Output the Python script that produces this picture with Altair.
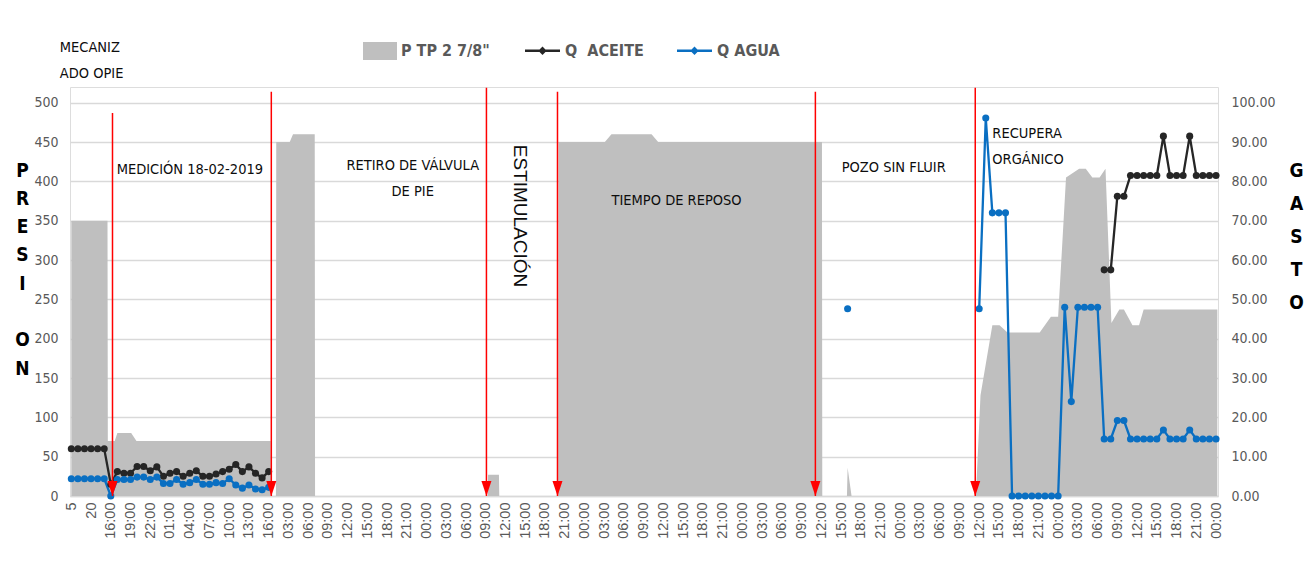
import json
import altair as alt
import pandas as pd

# ---------------- data ----------------
X_LABELS = ["5", "20", "16:00", "19:00", "22:00", "01:00", "04:00", "07:00", "10:00", "13:00", "16:00",
            "03:00", "06:00", "09:00", "12:00", "15:00", "18:00", "21:00", "00:00",
            "03:00", "06:00", "09:00", "12:00", "15:00", "18:00", "21:00", "00:00",
            "03:00", "06:00", "09:00", "12:00", "15:00", "18:00", "21:00", "00:00",
            "03:00", "06:00", "09:00", "12:00", "15:00", "18:00", "21:00", "00:00",
            "03:00", "06:00", "09:00", "12:00", "15:00", "18:00", "21:00", "00:00",
            "03:00", "06:00", "09:00", "12:00", "15:00", "18:00", "21:00", "00:00"]
LABEL_STEP = 3  # one label every 3 hourly categories

# pressure outline (category index, psi)
P_IDX = [0, 5.5, 5.55, 6.6, 7.0, 9.1, 9.9,
         30.3, 30.35, 31.1, 31.15, 33.2, 33.7, 37.0, 37.05,
         63.3, 63.35, 65.0, 65.05,
         74.0, 74.05, 81.1, 82.1, 88.2, 89.2, 114.1, 114.15,
         117.9, 118.0, 118.6,
         137.5, 138.2, 140.0, 141.1, 142.3, 147.2, 148.9, 150.0,
         151.2, 153.2, 154.2, 155.2, 156.3, 157.2, 158.1, 159.3, 160.0, 161.3, 162.3, 163.0, 174.2]
P_VAL = [350, 350, 70, 70, 80, 80, 70,
         70, 0, 0, 450, 450, 460, 460, 0,
         0, 27, 27, 0,
         0, 450, 450, 460, 460, 450, 450, 0,
         0, 36, 0,
         0, 128, 217, 217, 208, 208, 228, 228,
         405, 416, 416, 405, 405, 416, 220, 237, 237, 217, 217, 237, 237]

ACEITE_LEFT_START = 0
ACEITE_LEFT = [12, 12, 12, 12, 12, 12, 3,
               6.2, 5.8, 5.8, 7.5, 7.5, 6.4, 7.4, 5.0, 5.8, 6.2,
               5.0, 5.8, 6.4, 5.0, 5.0, 5.6, 6.2, 6.8, 8.0, 6.2,
               7.4, 5.8, 4.6, 6.2]
ACEITE_RIGHT_START = 157
ACEITE_RIGHT = [57.5, 57.5, 76.2, 76.2, 81.5, 81.5, 81.5, 81.5, 81.5, 91.5,
                81.5, 81.5, 81.5, 91.5, 81.5, 81.5, 81.5, 81.5]

AGUA_LEFT_START = 0
AGUA_LEFT = [4.4, 4.4, 4.4, 4.4, 4.4, 4.4, 0,
             4.2, 4.2, 4.2, 4.8, 4.8, 4.2, 4.8, 3.2, 3.2, 4.2,
             3.0, 3.4, 4.2, 3.0, 3.0, 3.4, 3.2, 4.4, 2.8, 2.0,
             2.8, 1.8, 1.6, 2.2]
AGUA_MID_START = 118
AGUA_MID = [47.6]
AGUA_RIGHT_START = 138
AGUA_RIGHT = [47.6, 96.1, 72, 72, 72,
              0, 0, 0, 0, 0, 0, 0, 0,
              48, 24, 48, 48, 48, 48,
              14.5, 14.5, 19.2, 19.2, 14.5, 14.5, 14.5, 14.5, 14.5, 16.8,
              14.5, 14.5, 14.5, 16.8, 14.5, 14.5, 14.5, 14.5]

ARROW_IDX = [6.26, 30.4, 63.1, 73.9, 113.1, 137.4]
ARROW_TOP = [487, 514, 519, 514, 514, 519]

NOTES_LEFT = ["MECANIZ\nADO OPIE", "MEDICIÓN 18-02-2019", "POZO SIN FLUIR", "RECUPERA\nORGÁNICO"]
NOTES_LEFT_IDX = [-1.75, 6.9, 117.1, 140.0]
NOTES_LEFT_P = [569, 415, 417, 460]
NOTES_CENTER = ["RETIRO DE VÁLVULA\nDE PIE", "TIEMPO DE REPOSO"]
NOTES_CENTER_IDX = [51.9, 92.0]
NOTES_CENTER_P = [419, 375]
NOTES_VERT = ["ESTIMULACIÓN"]
NOTES_VERT_IDX = [68.2]
NOTES_VERT_P = [356]

S_PRES = 'P TP 2 7/8"'
S_ACEITE = "Q\u00a0 ACEITE"
S_AGUA = "Q AGUA"

# ---------------- tables ----------------
pres = pd.DataFrame({"idx": P_IDX, "p": P_VAL, "serie": S_PRES})

rows = []
def add(serie, seg, start, vals):
    for i, v in enumerate(vals):
        rows.append({"idx": start + i, "q": v, "serie": serie, "seg": serie + seg})

add(S_ACEITE, "a", ACEITE_LEFT_START, ACEITE_LEFT)
add(S_ACEITE, "b", ACEITE_RIGHT_START, ACEITE_RIGHT)
add(S_AGUA, "a", AGUA_LEFT_START, AGUA_LEFT)
add(S_AGUA, "b", AGUA_MID_START, AGUA_MID)
add(S_AGUA, "c", AGUA_RIGHT_START, AGUA_RIGHT)
flows = pd.DataFrame(rows)

arrows = pd.DataFrame({"idx": ARROW_IDX, "top": ARROW_TOP, "y0": [0] * len(ARROW_IDX)})
notes_l = pd.DataFrame({"idx": NOTES_LEFT_IDX, "p": NOTES_LEFT_P, "t": NOTES_LEFT})
notes_c = pd.DataFrame({"idx": NOTES_CENTER_IDX, "p": NOTES_CENTER_P, "t": NOTES_CENTER})
notes_v = pd.DataFrame({"idx": NOTES_VERT_IDX, "p": NOTES_VERT_P, "t": NOTES_VERT})

# ---------------- styling ----------------
FONT_N = "DejaVu Sans Condensed, Liberation Sans Narrow, sans-serif"
FONT_R = "Liberation Sans, Arial, sans-serif"
GREY_TXT = "#595959"
GRID = "#d9d9d9"
AREA_C = "#bfbfbf"
BLACK_C = "#262626"
BLUE_C = "#0a6fc2"
BLANK_LINE = "\u2800"

X_SCALE = alt.Scale(domain=[-0.2, 174.3], nice=False, zero=False)
YP_SCALE = alt.Scale(domain=[0, 520], nice=False, zero=True)
YQ_SCALE = alt.Scale(domain=[0, 104], nice=False, zero=True)

label_expr = f"{json.dumps(X_LABELS)}[round(datum.value / {LABEL_STEP})]"
X_AXIS = alt.Axis(values=[LABEL_STEP * k for k in range(len(X_LABELS))], labelExpr=label_expr,
                  labelAngle=-90, labelFont=FONT_R, labelFontSize=14.5, labelColor=GREY_TXT,
                  labelOverlap=False, labelBound=False, labelPadding=6, ticks=False,
                  domain=True, domainColor=GRID, domainWidth=1.5, grid=False, title=None)

YP_AXIS = alt.Axis(values=list(range(0, 501, 50)), labelFont=FONT_N, labelFontSize=14,
                   labelColor=GREY_TXT, labelPadding=12, ticks=False, domain=False,
                   grid=True, gridColor=GRID, gridWidth=1.5,
                   title=["P", "R", "E", "S", "I", BLANK_LINE, "O", "N"], titleAngle=0,
                   titleX=-48, titleY=83, titleAlign="center", titleBaseline="middle",
                   titleLineHeight=28.3, titleFont=FONT_N, titleFontSize=19,
                   titleFontWeight="bold", titleColor="#000000")

YQ_AXIS = alt.Axis(orient="right", values=list(range(0, 101, 10)), format=".2f",
                   labelFont=FONT_N, labelFontSize=14, labelColor=GREY_TXT, labelPadding=13,
                   ticks=False, domain=False, grid=False,
                   title=["G", "A", "S", "T", "O"], titleAngle=0,
                   titleX=78, titleY=83, titleAlign="center", titleBaseline="middle",
                   titleLineHeight=33, titleFont=FONT_N, titleFontSize=19,
                   titleFontWeight="bold", titleColor="#000000")

RECT_PATH = "M-1,-0.53 L1,-0.53 L1,0.53 L-1,0.53 Z"
LINE_SYM = "M-1,-0.07 L1,-0.07 L1,0.07 L-1,0.07 Z M0,-0.24 L0.24,0 L0,0.24 L-0.24,0 Z"
TRI_PATH = "M-1,-3 L1,-3 L0,0 Z"

FLOW_LEGEND = alt.Legend(title=None, orient="none", legendX=455, legendY=-54,
                         direction="horizontal", symbolType=LINE_SYM,
                         symbolSize=1225, symbolStrokeWidth=0, padding=0,
                         columnPadding=33, labelFont=FONT_N, labelFontSize=16,
                         labelFontWeight="bold", labelColor=GREY_TXT, labelOffset=5)

X_ENC = alt.X("idx:Q", scale=X_SCALE, axis=X_AXIS)

# ---------------- layers ----------------
area = alt.Chart(pres).mark_area(interpolate="linear", opacity=1).encode(
    x=X_ENC,
    y=alt.Y("p:Q", scale=YP_SCALE, axis=YP_AXIS),
    fill=alt.Fill("serie:N", scale=alt.Scale(domain=[S_PRES], range=[AREA_C]),
                  legend=alt.Legend(title=None, orient="none", legendX=293, legendY=-53,
                                    direction="horizontal", symbolType=RECT_PATH,
                                    symbolSize=1156, symbolStrokeWidth=0, padding=0,
                                    labelFont=FONT_N, labelFontSize=16, labelFontWeight="bold",
                                    labelColor=GREY_TXT, labelOffset=4)),
)

color_scale = alt.Scale(domain=[S_ACEITE, S_AGUA], range=[BLACK_C, BLUE_C])

lines = alt.Chart(flows).mark_line(strokeWidth=2.3).encode(
    x=X_ENC,
    y=alt.Y("q:Q", scale=YQ_SCALE, axis=YQ_AXIS),
    detail="seg:N",
    color=alt.Color("serie:N", scale=color_scale, legend=FLOW_LEGEND),
)
points = alt.Chart(flows).mark_circle(size=50, opacity=1).encode(
    x=X_ENC,
    y=alt.Y("q:Q", scale=YQ_SCALE, axis=YQ_AXIS),
    color=alt.Color("serie:N", scale=color_scale, legend=FLOW_LEGEND),
)

rules = alt.Chart(arrows).mark_rule(color="#ff0000", strokeWidth=1.5).encode(
    x=X_ENC,
    y=alt.Y("y0:Q", scale=YP_SCALE, axis=None),
    y2="top:Q",
)
heads = alt.Chart(arrows).mark_point(shape=TRI_PATH, filled=True, size=100, color="#ff0000",
                                     opacity=1, strokeWidth=0).encode(
    x=X_ENC,
    y=alt.Y("y0:Q", scale=YP_SCALE, axis=None),
)

def note_layer(df, font=FONT_N, size=14.5, **kw):
    return alt.Chart(df).mark_text(font=font, fontSize=size, color="#0d0d0d",
                                   lineBreak="\n", lineHeight=26, baseline="middle", **kw).encode(
        x=X_ENC,
        y=alt.Y("p:Q", scale=YP_SCALE, axis=None),
        text="t:N",
    )

notes = alt.layer(
    note_layer(notes_l, align="left"),
    note_layer(notes_c, align="center"),
    note_layer(notes_v, font=FONT_R, size=19, align="center", angle=90),
)

overlay = alt.layer(rules, heads, notes)
right = alt.layer(lines, points)

chart = (
    alt.layer(area, right, overlay)
    .resolve_scale(y="independent")
    .properties(width=1148, height=409,
                padding={"left": 62, "top": 79, "right": 90, "bottom": 70},
                autosize=alt.AutoSizeParams(type="none"))
    .configure_view(stroke=None)
    .configure(background="white")
)

chart.save("out.html", embed_options={"renderer": "svg", "actions": False})
